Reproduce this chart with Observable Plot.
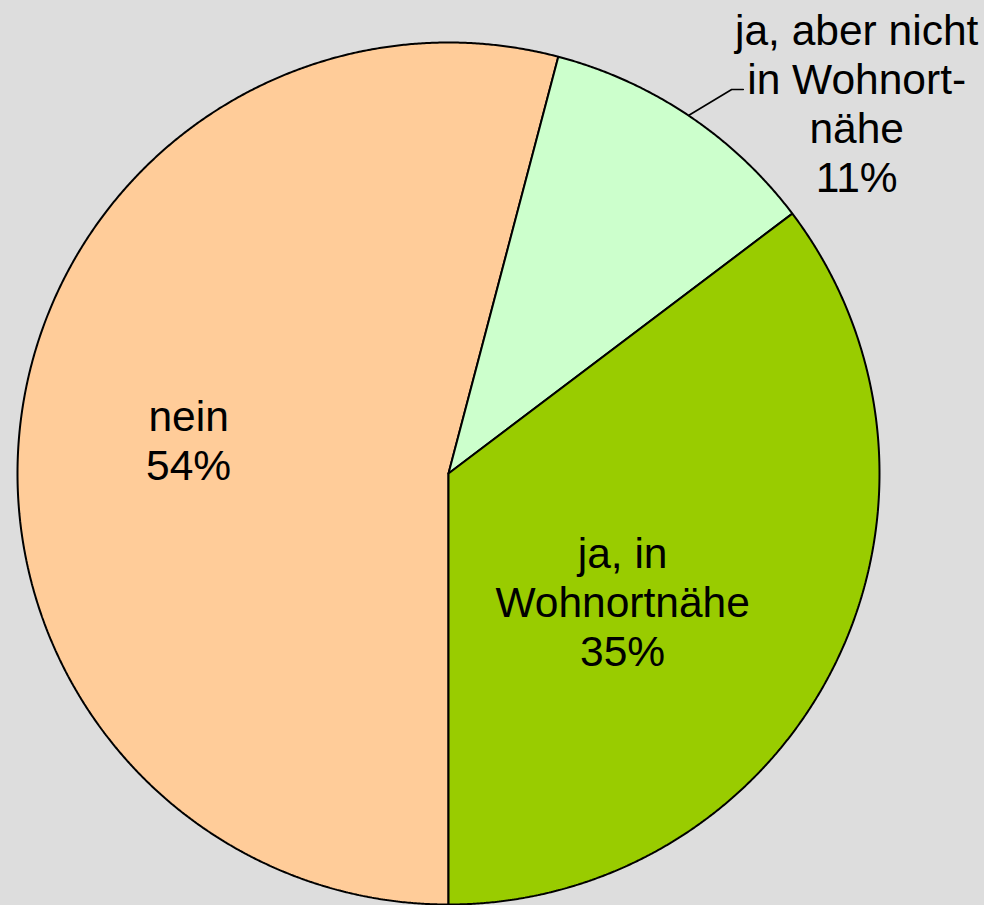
<!DOCTYPE html>
<html>
<head>
<meta charset="utf-8">
<script src="https://cdn.jsdelivr.net/npm/d3@7"></script>
<script src="https://cdn.jsdelivr.net/npm/@observablehq/plot@0.6"></script>
<style>
  html, body { margin: 0; padding: 0; background: #dddddd; }
  #chart svg { display: block; }
</style>
</head>
<body>
<div id="chart"></div>
<script>
// Data
const categories = ["nein", "ja, aber nicht in Wohnortnähe", "ja, in Wohnortnähe"];
const values = [54.1, 10.6, 35.3];
const labelTexts = ["nein\n54%", "ja, aber nicht\nin Wohnort-\nnähe\n11%", "ja, in\nWohnortnähe\n35%"];
const colors = ["#FFCC99", "#CCFFCC", "#99CC00"];

// Layout (data units of a unit circle)
const labelPos = [[-0.603, 0.079], [0.947, 0.860], [0.404, -0.297]];
const leaderElbow = [[0.657, 0.891], [0.684, 0.891]]; // only for the small slice

const pie = d3.pie().sort(null).value(d => d.value).startAngle(Math.PI).endAngle(3 * Math.PI);
const rows = categories.map((c, i) => ({category: c, value: values[i]}));
const arcs = pie(rows);

// Build slice outlines from the pie angles
const slicePts = [];
arcs.forEach(a => {
  const c = a.data.category;
  slicePts.push({category: c, x: 0, y: 0});
  const n = Math.max(2, Math.ceil((a.endAngle - a.startAngle) / (Math.PI / 720)));
  for (let k = 0; k <= n; k++) {
    const t = a.startAngle + (a.endAngle - a.startAngle) * k / n;
    slicePts.push({category: c, x: Math.sin(t), y: Math.cos(t)});
  }
  slicePts.push({category: c, x: 0, y: 0});
});

const labels = arcs.map((a, i) => ({text: labelTexts[i], x: labelPos[i][0], y: labelPos[i][1]}));

// Leader line for the small slice: starts on the rim at its mid-angle
const small = arcs[1];
const mid = (small.startAngle + small.endAngle) / 2;
const leader = [{x: Math.sin(mid), y: Math.cos(mid)}, {x: leaderElbow[0][0], y: leaderElbow[0][1]}, {x: leaderElbow[1][0], y: leaderElbow[1][1]}];

const chart = Plot.plot({
  width: 984,
  height: 905,
  margin: 0,
  style: {background: "#dddddd", fontFamily: "'Liberation Sans', Arial, sans-serif"},
  x: {domain: [-1, 1], range: [17, 879], axis: null},
  y: {domain: [-1, 1], range: [904, 42], axis: null},
  color: {domain: categories, range: colors},
  marks: [
    Plot.line(slicePts, {x: "x", y: "y", z: "category", fill: "category", stroke: "black", strokeWidth: 2, strokeLinejoin: "miter", curve: "linear"}),
    Plot.line(leader, {x: "x", y: "y", stroke: "black", strokeWidth: 1.6, curve: "linear"}),
    Plot.text(labels, {x: "x", y: "y", text: "text", fontSize: 42.5, lineHeight: 1.15, textAnchor: "middle", lineAnchor: "middle", fill: "black"})
  ]
});
document.getElementById("chart").appendChild(chart);
</script>
</body>
</html>
